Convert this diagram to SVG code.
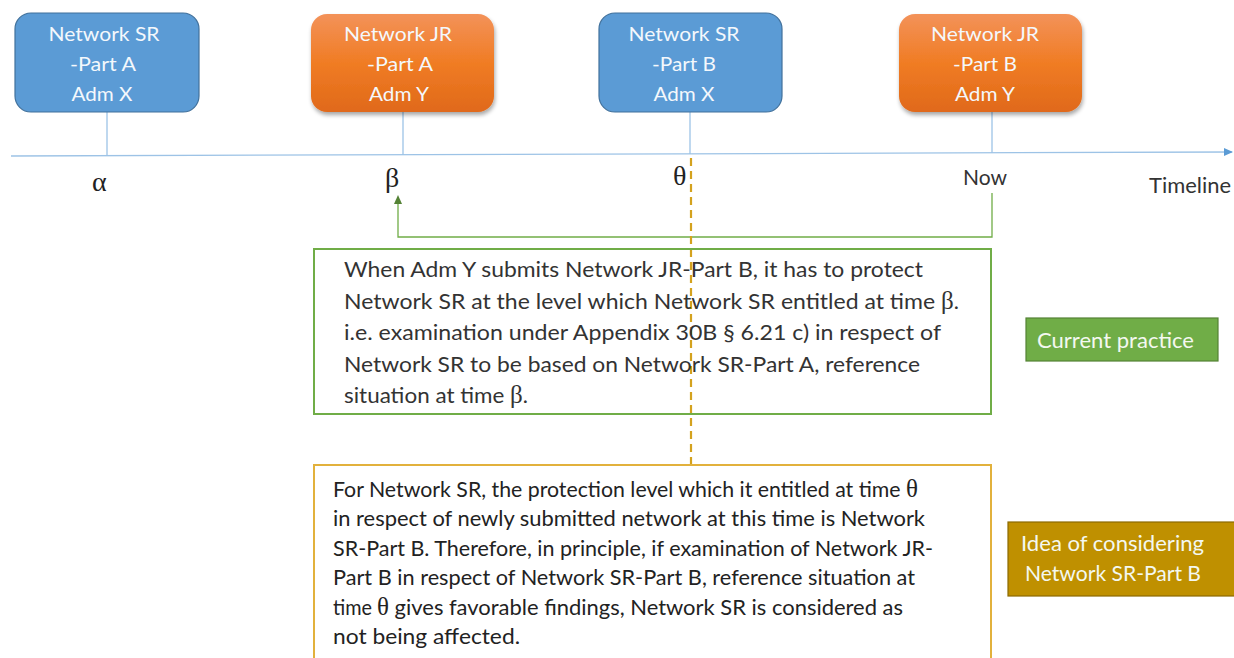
<svg xmlns="http://www.w3.org/2000/svg" width="1234" height="658" viewBox="0 0 1234 658">
<defs>
<linearGradient id="og" x1="0" y1="0" x2="0" y2="1">
<stop offset="0" stop-color="#F39259"/>
<stop offset="0.5" stop-color="#F07C24"/>
<stop offset="1" stop-color="#E0691A"/>
</linearGradient>
<filter id="sh" x="-10%" y="-10%" width="125%" height="130%">
<feGaussianBlur in="SourceAlpha" stdDeviation="2"/>
<feOffset dx="1" dy="3" result="b"/>
<feComponentTransfer><feFuncA type="linear" slope="0.35"/></feComponentTransfer>
<feMerge><feMergeNode/><feMergeNode in="SourceGraphic"/></feMerge>
</filter>
<marker id="blueArrow" markerWidth="10" markerHeight="10" refX="8" refY="5" orient="auto" markerUnits="userSpaceOnUse">
<path d="M0,1 L9,5 L0,9 Z" fill="#5B9BD5"/>
</marker>
<marker id="greenArrow" markerWidth="10" markerHeight="10" refX="5" refY="8" orient="0" markerUnits="userSpaceOnUse">
<path d="M1,9 L5,0 L9,9 Z" fill="#548235"/>
</marker>
</defs>
<style>
.blue{fill:#5B9BD5;stroke:#41719C;stroke-width:1.2}
.orange{fill:url(#og);stroke:none}
.bt{font-family:Lato,"Open Sans","Liberation Sans",sans-serif;font-size:20px;fill:#F4F8FC;text-anchor:middle}
.tick{stroke:#9DC3E6;stroke-width:1.3;fill:none}
.greek{font-family:"Liberation Serif","DejaVu Serif",serif;font-size:28px;fill:#222}
.lbl{font-family:Lato,"Open Sans","Liberation Sans",sans-serif;font-size:21px;fill:#333}
.gt{font-family:Lato,"Open Sans","Liberation Sans",sans-serif;font-size:22px;fill:#333}
.yt{font-family:Lato,"Open Sans","Liberation Sans",sans-serif;font-size:21px;fill:#222}
.wt{font-family:Lato,"Open Sans","Liberation Sans",sans-serif;font-size:21px;fill:#F4F8F0}
.sym{font-family:"Liberation Serif","DejaVu Serif",serif;font-size:25px}
</style>
<rect width="1234" height="658" fill="#FFFFFF"/>

<g id="connectors">
<line class="tick" x1="11" y1="156" x2="1232" y2="152" stroke-width="1.5" marker-end="url(#blueArrow)"/>
<line class="tick" x1="107" y1="112" x2="107" y2="156"/>
<line class="tick" x1="403" y1="112" x2="403" y2="155"/>
<line class="tick" x1="690" y1="112" x2="690" y2="154"/>
<line class="tick" x1="992" y1="112" x2="992" y2="153"/>
<polyline points="992,193 992,237 398,237 398,203" fill="none" stroke="#70AD47" stroke-width="1.3" marker-end="url(#greenArrow)"/>
<line x1="691" y1="158" x2="691" y2="465" stroke="#D4A21E" stroke-width="2.2" stroke-dasharray="8,5"/>
</g>

<g id="node-sr-a">
<rect class="blue" x="15" y="13" width="184" height="99" rx="16"/>
<text class="bt" x="104" y="41" textLength="111" lengthAdjust="spacingAndGlyphs">Network SR</text>
<text class="bt" x="103" y="71" textLength="66" lengthAdjust="spacingAndGlyphs">-Part A</text>
<text class="bt" x="102" y="101" textLength="61" lengthAdjust="spacingAndGlyphs">Adm X</text>
</g>

<g id="node-jr-a">
<rect class="orange" x="311" y="14" width="183" height="98" rx="16" filter="url(#sh)"/>
<text class="bt" x="398" y="41" textLength="108" lengthAdjust="spacingAndGlyphs">Network JR</text>
<text class="bt" x="400" y="71" textLength="66" lengthAdjust="spacingAndGlyphs">-Part A</text>
<text class="bt" x="399" y="101" textLength="60" lengthAdjust="spacingAndGlyphs">Adm Y</text>
</g>

<g id="node-sr-b">
<rect class="blue" x="599" y="13" width="183" height="99" rx="16"/>
<text class="bt" x="684" y="41" textLength="111" lengthAdjust="spacingAndGlyphs">Network SR</text>
<text class="bt" x="684" y="71" textLength="64" lengthAdjust="spacingAndGlyphs">-Part B</text>
<text class="bt" x="684" y="101" textLength="61" lengthAdjust="spacingAndGlyphs">Adm X</text>
</g>

<g id="node-jr-b">
<rect class="orange" x="899" y="14" width="183" height="98" rx="16" filter="url(#sh)"/>
<text class="bt" x="985" y="41" textLength="108" lengthAdjust="spacingAndGlyphs">Network JR</text>
<text class="bt" x="985" y="71" textLength="64" lengthAdjust="spacingAndGlyphs">-Part B</text>
<text class="bt" x="985" y="101" textLength="60" lengthAdjust="spacingAndGlyphs">Adm Y</text>
</g>

<g id="timeline-labels">
<text class="greek" x="92" y="191">α</text>
<text class="greek" x="385" y="187">β</text>
<text class="greek" x="673" y="185">θ</text>
<text class="lbl" x="963" y="185" textLength="44" lengthAdjust="spacingAndGlyphs">Now</text>
<text class="lbl" x="1149" y="193" textLength="82" lengthAdjust="spacingAndGlyphs">Timeline</text>
</g>

<g id="current-practice-box">
<rect x="314" y="249" width="677" height="165" fill="none" stroke="#70AD47" stroke-width="2"/>
<text class="gt" x="344" y="277" textLength="579" lengthAdjust="spacingAndGlyphs">When Adm Y submits Network JR-Part B, it has to protect</text>
<text class="gt" y="309"><tspan x="344" textLength="597" lengthAdjust="spacingAndGlyphs">Network SR at the level which Network SR entitled at time </tspan><tspan class="sym">β</tspan><tspan>.</tspan></text>
<text class="gt" x="344" y="340" textLength="597" lengthAdjust="spacingAndGlyphs">i.e. examination under Appendix 30B § 6.21 c) in respect of</text>
<text class="gt" x="344" y="372" textLength="576" lengthAdjust="spacingAndGlyphs">Network SR to be based on Network SR-Part A, reference</text>
<text class="gt" y="403"><tspan x="344" textLength="166" lengthAdjust="spacingAndGlyphs">situation at time </tspan><tspan class="sym">β</tspan><tspan>.</tspan></text>
</g>

<g id="idea-box">
<rect x="314" y="465" width="677" height="200" fill="none" stroke="#E2B13C" stroke-width="2"/>
<text class="yt" y="497"><tspan x="333" textLength="573" lengthAdjust="spacingAndGlyphs">For Network SR, the protection level which it entitled at time </tspan><tspan class="sym" font-size="23">θ</tspan></text>
<text class="yt" x="333" y="526" textLength="592" lengthAdjust="spacingAndGlyphs">in respect of newly submitted network at this time is Network</text>
<text class="yt" x="333" y="556" textLength="600" lengthAdjust="spacingAndGlyphs">SR-Part B. Therefore, in principle, if examination of Network JR-</text>
<text class="yt" x="333" y="585" textLength="582" lengthAdjust="spacingAndGlyphs">Part B in respect of Network SR-Part B, reference situation at</text>
<text class="yt" y="615"><tspan x="333" textLength="39" lengthAdjust="spacingAndGlyphs">time</tspan><tspan class="sym" font-size="23" dx="5">θ</tspan><tspan textLength="514" lengthAdjust="spacingAndGlyphs"> gives favorable findings, Network SR is considered as</tspan></text>
<text class="yt" x="333" y="644" textLength="187" lengthAdjust="spacingAndGlyphs">not being affected.</text>
</g>

<g id="legend-current">
<rect x="1026" y="318" width="192" height="43" fill="#70AD47" stroke="#548235" stroke-width="1.2"/>
<text class="wt" x="1037" y="348" textLength="157" lengthAdjust="spacingAndGlyphs">Current practice</text>
</g>

<g id="legend-idea">
<rect x="1008" y="522" width="230" height="74" fill="#BF9000" stroke="#8C6A00" stroke-width="1.2"/>
<text class="wt" x="1021" y="551" textLength="183" lengthAdjust="spacingAndGlyphs">Idea of considering</text>
<text class="wt" x="1025" y="581" textLength="176" lengthAdjust="spacingAndGlyphs">Network SR-Part B</text>
</g>
</svg>
